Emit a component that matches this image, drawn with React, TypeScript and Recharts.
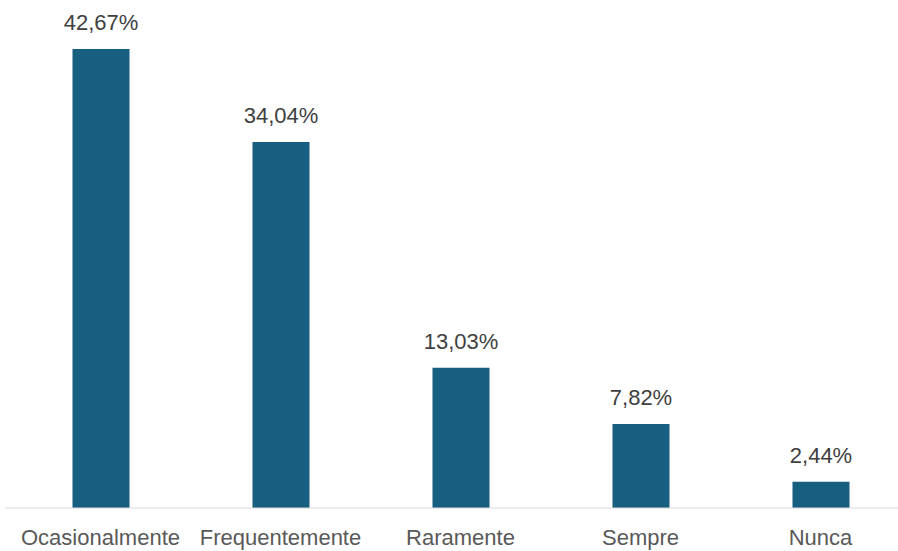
import { Bar, BarChart, LabelList, XAxis, YAxis } from 'recharts';

const categories = ['Ocasionalmente', 'Frequentemente', 'Raramente', 'Sempre', 'Nunca'];
const percentages = [42.67, 34.04, 13.03, 7.82, 2.44];

const data = categories.map((name, i) => ({ name, value: percentages[i] }));

const fmt = (v: number) => v.toFixed(2).replace('.', ',') + '%';

export default function App() {
  return (
    <div style={{ position: 'absolute', top: 0, left: 0, width: 898, height: 551, overflow: 'hidden', background: '#fff', fontFamily: '"Liberation Sans", Arial, sans-serif' }}>
      <BarChart width={915} height={551} data={data} margin={{ top: 24, right: 0, bottom: 0, left: 5 }} barSize={57} style={{ overflow: 'visible' }}>
        <XAxis
          dataKey="name"
          height={43}
          padding={{ left: 5.5, right: 4.5 }}
          axisLine={{ stroke: '#d9d9d9', strokeWidth: 1 }}
          tickLine={false}
          tickSize={0}
          tickMargin={21}
          interval={0}
          tick={{ fill: '#595959', fontSize: 22 }}
        />
        <YAxis hide domain={[0, 45]} />
        <Bar dataKey="value" fill="#175f81" isAnimationActive={false}>
          <LabelList dataKey="value" position="top" offset={19} formatter={(v: any) => fmt(Number(v))} style={{ fill: '#404040', fontSize: 22 }} />
        </Bar>
      </BarChart>
    </div>
  );
}
